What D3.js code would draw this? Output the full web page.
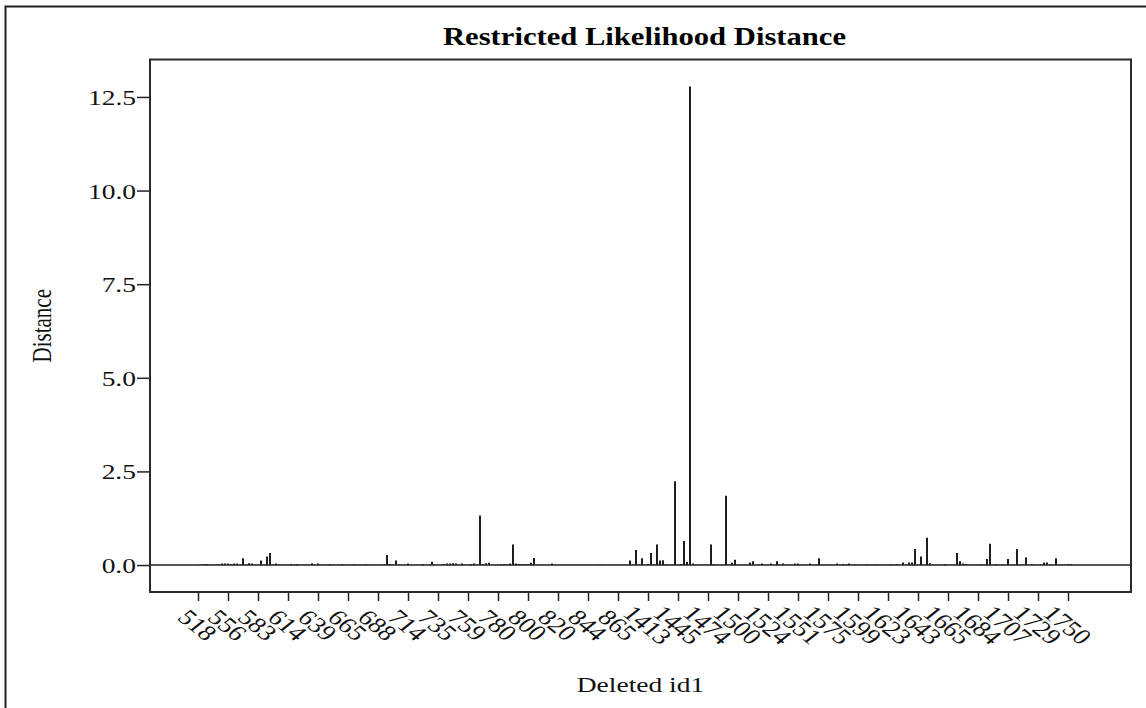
<!DOCTYPE html>
<html>
<head>
<meta charset="utf-8">
<script src="https://cdn.jsdelivr.net/npm/d3@7"></script>
<style>
  html, body { margin: 0; padding: 0; background: #fff; }
  svg { display: block; }
  text { font-family: "Liberation Serif", "Times New Roman", serif; fill: #111; }
</style>
</head>
<body>
<svg id="chart" width="1146" height="708"></svg>
<script>
// Labelled ids along the x axis (one label every tenth deleted observation)
const tickLabels = [518, 556, 583, 614, 639, 665, 688, 714, 735, 759,
                    780, 800, 820, 844, 865, 1413, 1445, 1474, 1500, 1524,
                    1551, 1575, 1599, 1623, 1643, 1665, 1684, 1707, 1729, 1750];
const labelEvery = 10;

// Restricted likelihood distance for each deleted observation, in plot order
const distance = [
  0.01, 0.01, 0.03, 0.03, 0.01, 0.01, 0.01, 0.02, 0.04, 0.04,
  0.04, 0.02, 0.04, 0.04, 0.01, 0.18, 0.01, 0.05, 0.04, 0.01,
  0.01, 0.12, 0.01, 0.23, 0.32, 0.01, 0.04, 0.01, 0.01, 0.01,
  0.01, 0.03, 0.01, 0.03, 0.01, 0.01, 0.01, 0.01, 0.05, 0.01,
  0.04, 0.01, 0.01, 0.01, 0.03, 0.01, 0.01, 0.01, 0.03, 0.01,
  0.01, 0.01, 0.02, 0.01, 0.01, 0.01, 0.02, 0.01, 0.01, 0.01,
  0.01, 0.01, 0.02, 0.27, 0.03, 0.01, 0.12, 0.01, 0.01, 0.01,
  0.04, 0.01, 0.01, 0.01, 0.01, 0.03, 0.01, 0.01, 0.09, 0.01,
  0.01, 0.01, 0.02, 0.04, 0.04, 0.05, 0.04, 0.01, 0.04, 0.01,
  0.01, 0.03, 0.04, 0.01, 1.32, 0.02, 0.05, 0.06, 0.01, 0.01,
  0.01, 0.02, 0.03, 0.02, 0.04, 0.55, 0.04, 0.02, 0.03, 0.02,
  0.02, 0.06, 0.19, 0.01, 0.01, 0.01, 0.01, 0.01, 0.04, 0.01,
  0.005, 0.005, 0.005, 0.005, 0.005, 0.005, 0.005, 0.005, 0.005, 0.01,
  0.005, 0.005, 0.005, 0.005, 0.02, 0.005, 0.005, 0.005, 0.005, 0.005,
  0.005, 0.005, 0.005, 0.01, 0.12, 0.01, 0.40, 0.01, 0.18, 0.01,
  0.03, 0.32, 0.02, 0.55, 0.12, 0.13, 0.02, 0.01, 0.01, 2.24,
  0.01, 0.03, 0.64, 0.08, 12.78, 0.04, 0.01, 0.01, 0.01, 0.01,
  0.01, 0.55, 0.03, 0.01, 0.01, 0.01, 1.85, 0.01, 0.06, 0.14,
  0.01, 0.01, 0.01, 0.01, 0.07, 0.10, 0.01, 0.01, 0.04, 0.01,
  0.01, 0.04, 0.01, 0.10, 0.01, 0.04, 0.01, 0.01, 0.01, 0.04,
  0.04, 0.01, 0.01, 0.01, 0.04, 0.01, 0.01, 0.18, 0.01, 0.01,
  0.01, 0.01, 0.01, 0.04, 0.01, 0.03, 0.01, 0.04, 0.01, 0.01,
  0.005, 0.005, 0.005, 0.02, 0.005, 0.005, 0.02, 0.005, 0.005, 0.005,
  0.01, 0.02, 0.01, 0.02, 0.01, 0.07, 0.01, 0.07, 0.07, 0.43,
  0.01, 0.23, 0.01, 0.73, 0.05, 0.01, 0.01, 0.01, 0.01, 0.03,
  0.01, 0.01, 0.01, 0.32, 0.10, 0.04, 0.03, 0.01, 0.01, 0.01,
  0.01, 0.02, 0.01, 0.16, 0.57, 0.01, 0.03, 0.01, 0.01, 0.01,
  0.16, 0.01, 0.01, 0.43, 0.01, 0.01, 0.20, 0.01, 0.03, 0.01,
  0.01, 0.01, 0.07, 0.07, 0.01, 0.01, 0.18, 0.01, 0.01, 0.01,
  0.02, 0.02
];

const yTicks = [0, 2.5, 5.0, 7.5, 10.0, 12.5];

const W = 1146, H = 708;
const frame = { left: 150, top: 59.5, right: 1131, bottom: 592 };
const stretch = 1.25; // glyphs are drawn a little wider than tall

const svg = d3.select("#chart");

// Outer border of the graph area
svg.append("rect")
  .attr("x", 5.5).attr("y", 6.5)
  .attr("width", W + 20).attr("height", H + 20)
  .attr("fill", "none").attr("stroke", "#222").attr("stroke-width", 2);

const x = d3.scaleLinear()
  .domain([0, distance.length - 1])
  .range([198, 198 + 3 * (distance.length - 1)]);

const y = d3.scaleLinear()
  .domain([-0.72, 13.5])
  .range([frame.bottom, frame.top]);

// Title
svg.append("text")
  .attr("transform", `translate(${(frame.left + frame.right) / 2 + 4},45) scale(${stretch},1)`)
  .attr("text-anchor", "middle")
  .style("font-size", "24.5px")
  .style("font-weight", "bold")
  .style("fill", "#000")
  .text("Restricted Likelihood Distance");

// Reference line at zero
svg.append("line")
  .attr("x1", frame.left).attr("x2", frame.right)
  .attr("y1", y(0)).attr("y2", y(0))
  .attr("stroke", "#222").attr("stroke-width", 1.5);

// Needles
svg.append("g")
  .selectAll("line")
  .data(distance)
  .join("line")
  .attr("x1", (d, i) => x(i)).attr("x2", (d, i) => x(i))
  .attr("y1", y(0)).attr("y2", d => y(d))
  .attr("stroke", "#1e1e1e")
  .attr("stroke-width", 2);

// Y axis
const yAxis = svg.append("g")
  .attr("transform", `translate(${frame.left},0)`)
  .call(d3.axisLeft(y).tickValues(yTicks).tickFormat(d3.format(".1f")).tickSize(13).tickPadding(0));
yAxis.select(".domain").remove();
yAxis.selectAll(".tick line").attr("stroke", "#222").attr("stroke-width", 1.5);
yAxis.selectAll(".tick text")
  .attr("x", null).attr("dy", null)
  .attr("transform", `translate(-14,0) scale(${stretch},1)`)
  .attr("dominant-baseline", "central")
  .attr("text-anchor", "end")
  .style("font-size", "22px")
  .style("fill", "#111");

// X axis
const xAxis = svg.append("g")
  .attr("transform", `translate(0,${frame.bottom})`)
  .call(d3.axisBottom(x)
    .tickValues(tickLabels.map((_, k) => k * labelEvery))
    .tickFormat(i => tickLabels[i / labelEvery])
    .tickSize(9).tickPadding(0));
xAxis.select(".domain").remove();
xAxis.selectAll(".tick line").attr("stroke", "#222").attr("stroke-width", 1.5);
xAxis.selectAll(".tick text")
  .attr("y", null).attr("dy", null)
  .attr("transform", `translate(-1,33) scale(${stretch},1) rotate(45)`)
  .attr("dominant-baseline", "central")
  .attr("text-anchor", "middle")
  .style("font-size", "22px")
  .style("fill", "#111");

// Plot frame
svg.append("rect")
  .attr("x", frame.left).attr("y", frame.top)
  .attr("width", frame.right - frame.left).attr("height", frame.bottom - frame.top)
  .attr("fill", "none").attr("stroke", "#2a2a2a").attr("stroke-width", 2);

// Axis titles
svg.append("text")
  .attr("transform", `translate(42,${(frame.top + frame.bottom) / 2}) scale(${stretch},1) rotate(-90)`)
  .attr("text-anchor", "middle")
  .attr("dominant-baseline", "central")
  .style("font-size", "21px")
  .text("Distance");

svg.append("text")
  .attr("transform", `translate(${(frame.left + frame.right) / 2},692) scale(${stretch},1)`)
  .attr("text-anchor", "middle")
  .style("font-size", "22px")
  .text("Deleted id1");
</script>
</body>
</html>
